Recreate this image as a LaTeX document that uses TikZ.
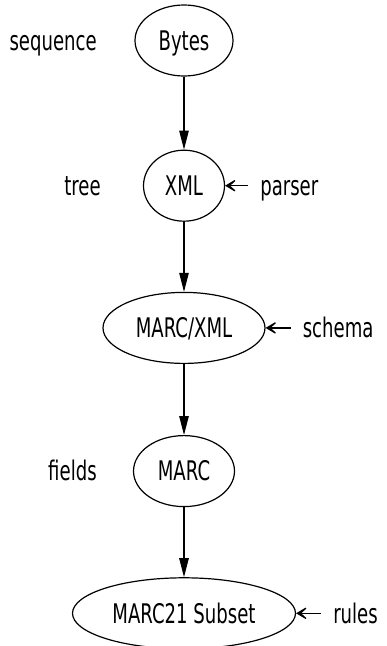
\documentclass[tikz,border=0pt]{standalone}
\usepackage{fontspec}
\setmainfont{DejaVu Sans}[FakeStretch=0.67]
\usepackage{tikz}
\usetikzlibrary{positioning,shapes.geometric,arrows.meta}

\begin{document}
\begin{tikzpicture}[x=1pt, y=1pt,
    every node/.style={inner sep=0pt, text height=19.5pt, text depth=0pt, font=\fontsize{27}{30}\selectfont},
    stage/.style={ellipse, draw, line width=1.2pt, minimum height=71pt},
    note/.style={inner xsep=12pt},
    flow/.style={line width=1.1pt, -{Triangle[length=19pt, width=9.5pt]}},
    feed/.style={line width=1.5pt, -{Stealth[length=15pt, width=18pt, inset=10pt]}}]
    \useasboundingbox (0,0) rectangle (386,-646);

    \node[stage, minimum width=98pt] (bytes) at (184,-40.5) {Bytes};
    \node[stage, minimum width=81pt, below=73pt of bytes] (xml) {XML};
    \node[stage, minimum width=162pt, below=70pt of xml] (marcxml) {MARC/XML};
    \node[stage, minimum width=101pt, below=71pt of marcxml] (marc) {MARC};
    \node[stage, minimum width=223pt, below=70pt of marc] (subset) {MARC21 Subset};

    \node[note, left=25.5pt of bytes] (sequence) {sequence};
    \node[note, left=30pt of xml] (tree) {tree};
    \node[note, left=24pt of marc] (fields) {fields};

    \node[note, right=23pt of xml] (parser) {parser};
    \node[note, right=25pt of marcxml] (schema) {schema};
    \node[note, right=25pt of subset] (rules) {rules};

    \draw[flow] (bytes) -- (xml);
    \draw[flow] (xml) -- (marcxml);
    \draw[flow] (marcxml) -- (marc);
    \draw[flow] (marc) -- (subset);

    \draw[feed] (parser) -- (xml);
    \draw[feed] (schema) -- (marcxml);
    \draw[feed] (rules) -- (subset);
\end{tikzpicture}
\end{document}
